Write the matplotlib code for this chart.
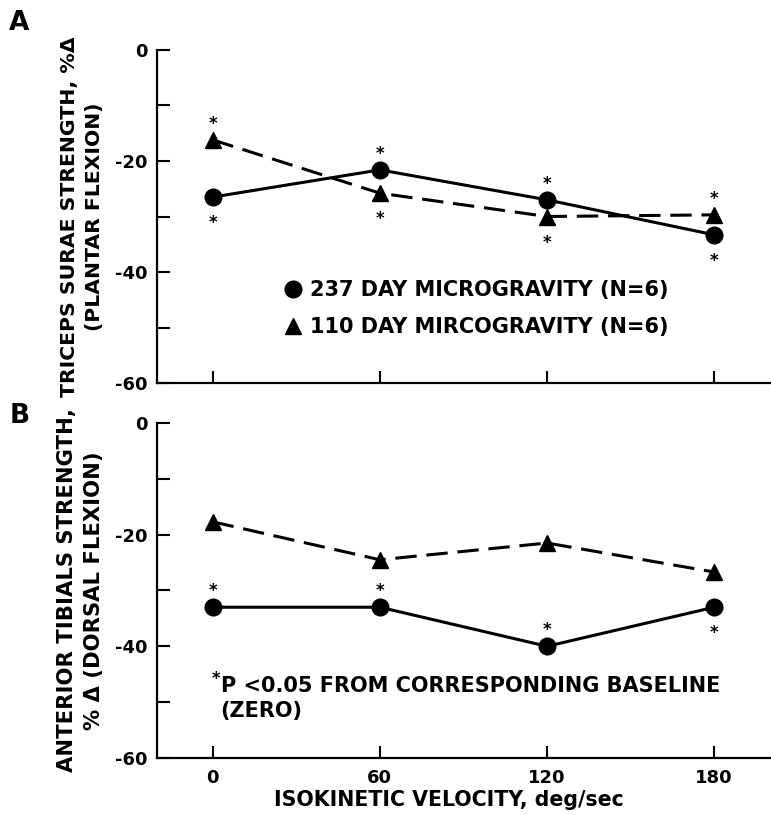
import numpy as np
import matplotlib.pyplot as plt
from matplotlib.lines import Line2D

plt.rcParams['font.family'] = ['DejaVu Sans']
plt.rcParams['font.weight'] = 'bold'
plt.rcParams['axes.labelweight'] = 'bold'
plt.rcParams['axes.unicode_minus'] = False

velocity = [0, 60, 120, 180]

# panel A: triceps surae (plantar flexion), % change from baseline
plantar_237 = [-26.5, -21.6, -27.0, -33.3]
plantar_110 = [-16.2, -25.8, -30.0, -29.7]
# significance asterisks: 1 = above the point, -1 = below, 0 = none
plantar_237_sig = [-1, 1, 1, -1]
plantar_110_sig = [1, -1, -1, 1]

# panel B: anterior tibials (dorsal flexion)
dorsal_237 = [-33.0, -33.0, -40.0, -33.0]
dorsal_110 = [-17.7, -24.5, -21.5, -26.7]
dorsal_237_sig = [1, 1, 1, -1]
dorsal_110_sig = [0, 0, 0, 0]

labels = ['237 DAY MICROGRAVITY (N=6)', '110 DAY MIRCOGRAVITY (N=6)']

TXT = 15


def add_stars(ax, xs, ys, sig):
    for x, y, s in zip(xs, ys, sig):
        if s == 0:
            continue
        off = 8.0 if s > 0 else -22.5
        ax.annotate('*', (x, y), xytext=(0, off), textcoords='offset points',
                    ha='center', va='baseline', fontsize=12)


def style_axes(ax):
    for side in ['top', 'right']:
        ax.spines[side].set_visible(False)
    for side in ['left', 'bottom']:
        ax.spines[side].set_linewidth(1.6)
    ax.set_xlim(-20, 200)
    ax.set_ylim(-60, 0)
    ax.set_xticks(velocity)
    ax.set_yticks([0, -20, -40, -60])
    ax.set_yticks([-10, -30, -50], minor=True)
    ax.tick_params(which='both', direction='in', length=9, width=1.5,
                   labelsize=13, pad=7, right=False, top=False)
    ax.tick_params(axis='x', pad=8)


def draw_series(ax, y237, y110):
    ax.plot(velocity, y237, color='black', lw=2.2, marker='o', ms=12)
    ax.plot(velocity, y110, color='black', lw=2.2, marker='^', ms=12,
            dashes=(7, 3.2))


fig = plt.figure(figsize=(7.71, 8.15), dpi=100)
ax_a = fig.add_axes([0.2036, 0.530, 0.795, 0.4087])
ax_b = fig.add_axes([0.2036, 0.070, 0.795, 0.411])

# --- Panel A ---
draw_series(ax_a, plantar_237, plantar_110)
add_stars(ax_a, velocity, plantar_237, plantar_237_sig)
add_stars(ax_a, velocity, plantar_110, plantar_110_sig)
style_axes(ax_a)
ax_a.tick_params(labelbottom=False)
ax_a.set_ylabel('TRICEPS SURAE STRENGTH, %\u0394\n(PLANTAR FLEXION)',
                fontsize=14.7, linespacing=1.4)
ax_a.yaxis.set_label_coords(-0.087, 0.5)

handles = [Line2D([], [], color='black', marker='o', ls='none', ms=12),
           Line2D([], [], color='black', marker='^', ls='none', ms=12)]
ax_a.legend(handles, labels, loc='upper left', bbox_to_anchor=(0.205, 0.308),
            frameon=False, prop={'size': TXT, 'weight': 'bold'},
            handlelength=1.0, handletextpad=0.3,
            labelspacing=0.8, borderpad=0, borderaxespad=0)

# --- Panel B ---
draw_series(ax_b, dorsal_237, dorsal_110)
add_stars(ax_b, velocity, dorsal_237, dorsal_237_sig)
add_stars(ax_b, velocity, dorsal_110, dorsal_110_sig)
style_axes(ax_b)
ax_b.set_ylabel('ANTERIOR TIBIALS STRENGTH,\n% \u0394 (DORSAL FLEXION)',
                fontsize=15.2, linespacing=1.4)
ax_b.yaxis.set_label_coords(-0.087, 0.5)
ax_b.set_xlabel('ISOKINETIC VELOCITY, deg/sec', fontsize=14.8)
ax_b.xaxis.set_label_coords(0.476, -0.095)

ax_b.text(0.104, 0.245, 'P <0.05 FROM CORRESPONDING BASELINE\n(ZERO)',
          transform=ax_b.transAxes, va='top', ha='left', fontsize=TXT,
          linespacing=1.35)
ax_b.text(0.090, 0.222, '*', transform=ax_b.transAxes, va='baseline',
          ha='left', fontsize=12)

fig.text(0.012, 0.988, 'A', fontsize=19, va='top', ha='left')
fig.text(0.012, 0.506, 'B', fontsize=19, va='top', ha='left')

plt.savefig('out.png', dpi=100)
